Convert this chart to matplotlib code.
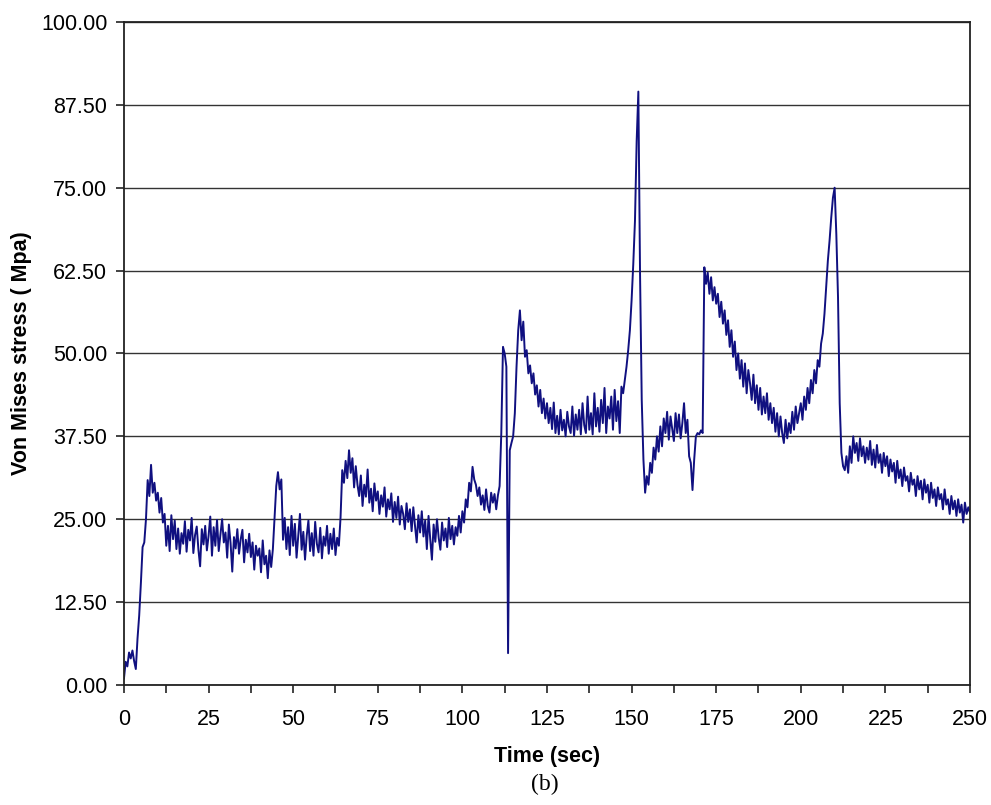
import numpy as np
import matplotlib
matplotlib.use("Agg")
import matplotlib.pyplot as plt
from matplotlib.ticker import MultipleLocator, FormatStrFormatter

# time step of the trace (s)
dt = 0.5

# Von Mises stress, one value every 0.5 s (0 .. 250 s)
stress = [
    1.0, 3.5, 2.8, 4.9, 4.0, 5.2, 3.6, 2.4, 7.0, 10.5,
    15.4, 20.8, 21.5, 25.0, 30.9, 28.5, 33.2, 29.0, 30.5, 27.8,
    29.0, 26.0, 28.2, 24.5, 25.8, 21.0, 24.0, 20.2, 25.6, 22.0,
    24.8, 20.5, 23.6, 19.8, 22.9, 21.3, 24.7, 20.1, 23.4, 21.8,
    25.2, 19.9, 22.6, 23.9, 20.4, 17.9, 23.5, 21.2, 24.0, 20.3,
    22.5, 25.4, 19.5, 23.8, 21.0, 24.9, 20.2, 22.7, 25.0, 21.5,
    23.0, 19.2, 24.2, 21.4, 17.1, 22.3, 20.6, 23.5, 19.8, 22.0,
    23.4, 18.5, 21.9, 20.0, 22.8, 19.3, 21.5, 17.4, 21.0, 19.5,
    20.6, 17.0, 21.8, 18.2, 19.5, 16.1, 20.3, 17.8, 20.5, 25.3,
    30.0, 32.1, 29.5, 31.0, 21.9, 25.2, 20.5, 23.8, 19.6, 25.5,
    21.0, 24.3, 19.2, 22.6, 25.8, 20.4, 23.1, 18.9, 22.5, 24.8,
    20.2, 22.9, 19.5, 24.6, 21.3, 20.0, 23.7, 19.1, 22.4, 21.0,
    24.0, 19.8, 22.8, 20.5, 23.6, 19.6, 22.2, 21.0, 25.3, 32.4,
    30.5, 33.8, 31.2, 35.4, 32.0, 34.2, 29.8, 33.0, 30.2, 28.5,
    31.6, 27.0, 30.2, 28.4, 32.5, 27.5, 29.6, 26.2, 30.4, 27.8,
    29.2, 25.8, 28.6, 26.9, 29.8, 25.4, 28.0, 26.5, 28.9, 24.6,
    27.6, 25.2, 28.4, 24.2, 27.0, 25.8, 23.5, 27.4, 24.6, 26.5,
    23.2, 26.8, 24.0, 21.5, 25.6, 23.0, 26.2, 22.4, 24.8, 20.5,
    25.5, 22.0, 18.9, 24.2, 21.6, 25.0, 22.2, 20.4, 24.5, 21.8,
    23.6, 20.8, 25.2, 22.0, 24.0, 21.2, 23.8, 22.5, 25.5, 23.0,
    26.2, 24.5, 28.0, 26.8, 30.5, 29.2, 32.9, 31.0, 30.2, 28.5,
    29.8, 27.2, 28.6, 26.4, 29.5, 27.0, 26.0, 29.0, 27.5, 28.8,
    26.5, 28.6, 30.0, 38.0, 51.0, 50.0, 48.0, 4.8, 35.4, 36.5,
    37.5, 41.0, 48.0, 53.5, 56.5, 52.0, 54.8, 49.5, 50.5, 47.0,
    48.2, 45.5, 47.0, 43.8, 45.2, 42.0, 44.5, 41.0, 43.2, 40.2,
    42.5, 39.5, 41.8, 38.6, 42.6, 38.0, 40.6, 37.8, 41.5, 38.4,
    40.0, 37.5, 41.2, 39.0, 38.0, 42.0, 37.6, 40.8, 38.5, 41.5,
    37.8, 42.5, 39.2, 38.0, 43.5, 38.5, 41.0, 37.8, 44.0, 39.0,
    41.8, 38.2, 43.0, 39.5, 44.8, 38.0, 42.0, 40.2, 43.5, 38.5,
    44.5, 39.8, 42.8, 38.0, 45.0, 44.0, 46.0, 48.0, 50.5, 53.5,
    58.0, 63.5, 70.0, 82.0, 89.5, 62.0, 43.0, 34.0, 29.0, 31.5,
    30.2, 33.5, 32.0, 35.8, 34.0, 37.5, 35.2, 39.0, 36.0, 40.2,
    38.0, 41.2, 37.0, 40.5, 38.6, 36.8, 41.0, 38.0, 40.8, 37.2,
    39.5, 42.5, 38.0, 40.0, 34.5, 33.5, 29.4, 34.0, 37.5, 38.0,
    37.8, 38.4, 38.0, 63.0, 60.5, 62.2, 59.0, 61.5, 58.0, 60.0,
    57.5, 59.0, 55.5, 57.8, 54.5, 56.5, 52.8, 55.0, 51.0, 53.5,
    49.5, 51.8, 47.5, 50.0, 46.2, 49.0, 45.0, 48.5, 44.0, 47.5,
    45.5, 43.0, 46.8, 42.5, 45.2, 41.5, 44.8, 40.8, 43.5, 41.0,
    44.0, 40.0, 42.5, 39.5, 41.8, 38.2, 41.0, 37.5, 40.5, 38.0,
    36.5, 40.0, 37.2, 39.5, 38.0, 41.2, 38.5, 42.0, 39.5, 41.0,
    42.5, 40.0, 43.5, 41.5, 44.8, 42.5, 46.0, 44.0, 47.5, 45.5,
    49.0, 48.0, 51.5, 53.0, 56.0, 60.0, 64.0, 67.0, 70.5, 73.5,
    75.0, 68.0, 58.5, 42.5, 35.0, 33.0, 32.4, 34.5, 32.0, 36.0,
    33.5, 37.5, 35.0, 36.5, 33.8, 37.2, 34.5, 36.0, 33.5, 35.8,
    34.0, 36.8, 33.2, 35.5, 32.8, 36.2, 33.5, 34.8, 32.0, 35.0,
    33.0, 34.5, 31.5, 34.0, 32.2, 33.5, 30.5, 33.8, 31.2, 32.5,
    30.0, 32.8, 30.8, 31.5, 29.2, 32.0, 30.2, 31.0, 28.5, 31.5,
    29.5, 30.8, 28.0, 31.0, 29.0, 30.2, 27.5, 30.5, 28.2, 29.5,
    27.0, 29.8, 28.0, 28.8, 26.5, 29.5, 27.2, 28.0, 25.8, 28.5,
    26.5, 27.8, 25.5, 28.0, 26.0, 27.2, 24.5, 27.5, 25.8, 26.8,
    26.0,
]
time = np.arange(len(stress)) * dt

y_ticks = [0, 12.5, 25, 37.5, 50, 62.5, 75, 87.5, 100]
x_ticks = [0, 25, 50, 75, 100, 125, 150, 175, 200, 225, 250]

plt.rcParams['font.family'] = ['Liberation Sans', 'DejaVu Sans']

fig = plt.figure(figsize=(9.91, 8.05), dpi=100)
ax = fig.add_axes([0.1251, 0.1491, 0.8537, 0.8236])

ax.plot(time, stress, color='#101080', linewidth=1.4)

ax.set_xlim(0, 250)
ax.set_ylim(0, 100)
ax.set_yticks(y_ticks)
ax.set_xticks(x_ticks)
ax.xaxis.set_minor_locator(MultipleLocator(12.5))
ax.yaxis.set_major_formatter(FormatStrFormatter('%.2f'))
ax.grid(axis='y', color='#333333', linewidth=1.0)
ax.set_axisbelow(True)

ax.tick_params(axis='both', which='both', direction='out', length=6, width=1.2,
               labelsize=15.5, color='#222222')
ax.tick_params(axis='x', pad=11)
ax.tick_params(axis='y', pad=6)
for s in ax.spines.values():
    s.set_linewidth(1.3)
    s.set_color('#222222')

ax.set_xlabel('Time (sec)', fontsize=15.5, fontweight='bold', labelpad=12)
ax.set_ylabel('Von Mises stress ( Mpa)', fontsize=15.5, fontweight='bold',
              va='center')
# label centre sits about 22 px from the left edge of the picture
ax.yaxis.set_label_coords(-0.121, 0.5)

fig.text(0.55, 0.025, '(b)', ha='center', va='center', fontsize=17,
         family=['Liberation Serif', 'DejaVu Serif'])

fig.savefig('out.png', dpi=100)
